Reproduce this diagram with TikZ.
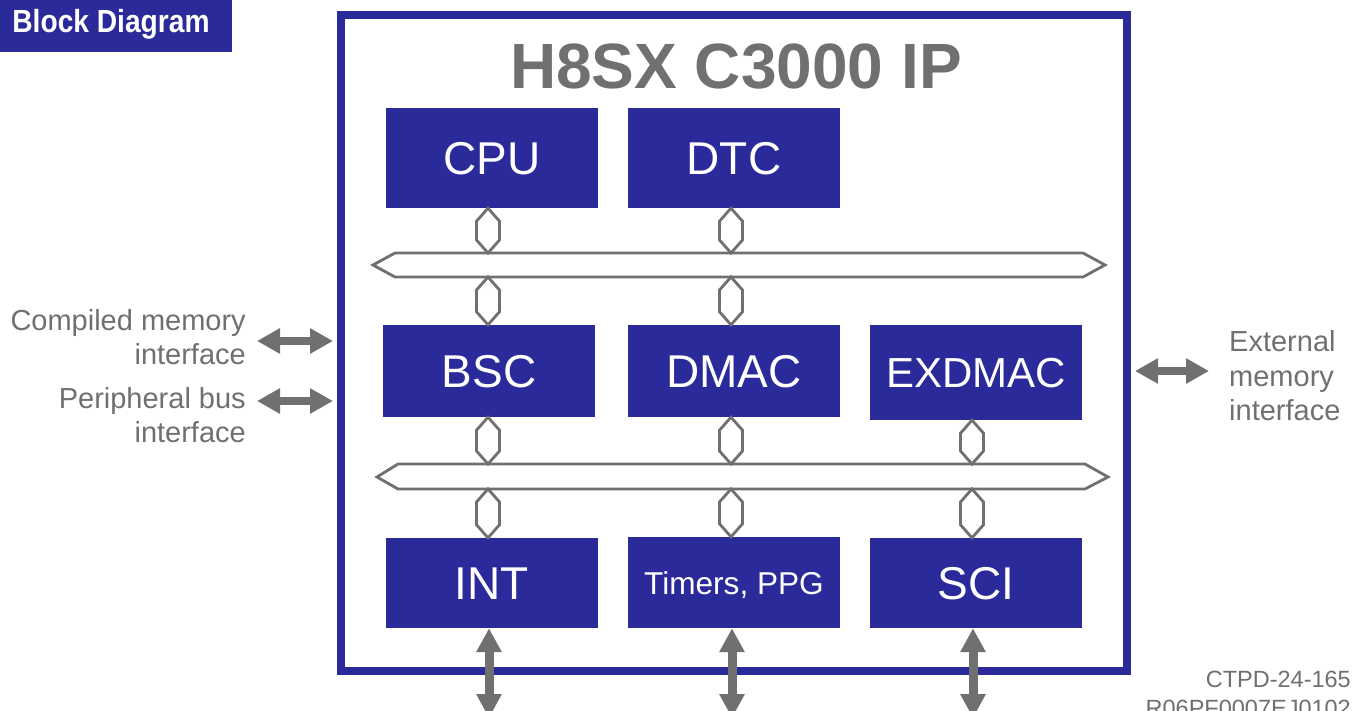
\documentclass[tikz,border=0pt]{standalone}
\usepackage{fontspec}
\usepackage{graphicx}
\setmainfont{Liberation Sans}
\usetikzlibrary{arrows.meta}
\definecolor{navy}{RGB}{43,42,155}
\definecolor{dgray}{RGB}{112,112,112}
\newcommand\hexcon[3]{%
  \coordinate (hA) at (#1 |- #2);
  \coordinate (hB) at (#1 |- #3);
  \draw[hexline] (hA) -- ([shift={(-11.5,13)}]hA) -- ([shift={(-11.5,-13)}]hB) -- (hB)
    -- ([shift={(11.5,-13)}]hB) -- ([shift={(11.5,13)}]hA) -- cycle;}
\begin{document}
\begin{tikzpicture}[x=1pt,y=-1pt,
  blk/.style={fill=navy, text=white, minimum width=212pt, inner sep=0pt,
    font=\fontsize{46}{50}\selectfont, text height=33pt, text depth=0pt},
  hexline/.style={draw=dgray, line width=2.8pt, fill=white},
  busline/.style={draw=dgray, line width=2.8pt, fill=white},
  sidetext/.style={text=dgray, inner sep=0pt, font=\fontsize{29}{34.5}\selectfont},
  hfat/.style={draw=dgray, line width=8pt,
    {Triangle[length=23pt,width=24pt]}-{Triangle[length=23pt,width=24pt]}},
  vfat/.style={draw=dgray, line width=9pt,
    {Triangle[length=24pt,width=24pt]}-{Triangle[length=24pt,width=24pt]}}]
\useasboundingbox (0,0) rectangle (1358,711);
\fill[white] (0,0) rectangle (1358,711);

% header tab
\node[fill=navy, minimum width=232pt, minimum height=52pt, inner sep=0pt, anchor=north west] (tab) at (0,0) {};
\node[anchor=base, text=white, inner sep=0pt, font=\fontsize{32}{36}\selectfont\bfseries] (tabtext) at (111,33) {\scalebox{0.88}[1]{Block Diagram}};

% frame
\node[draw=navy, line width=8pt, minimum width=786.5pt, minimum height=656pt, inner sep=0pt] (frame) at (733.75,343) {};
\node[anchor=base, text=dgray, inner sep=0pt, font=\fontsize{64}{70}\selectfont\bfseries] (title) at (736,89) {H8SX C3000 IP};

% columns and bus levels
\coordinate (col1) at (488,0);
\coordinate (col2) at (731,0);
\coordinate (col3) at (972,0);
\coordinate (bus1t) at (0,253);
\coordinate (bus1b) at (0,277);
\coordinate (bus2t) at (0,464);
\coordinate (bus2b) at (0,489);

% buses
\draw[busline] (373,265) -- (395,253) -- (1083,253) -- (1105,265) -- (1083,277) -- (395,277) -- cycle;
\draw[busline] (377,477) -- (398,464) -- (1085,464) -- (1108,477) -- (1085,489) -- (398,489) -- cycle;

% blocks
\node[blk, minimum height=100pt] (cpu) at (492,158) {CPU};
\node[blk, minimum height=100pt] (dtc) at (734,158) {DTC};
\node[blk, minimum height=92pt] (bsc) at (489,371) {BSC};
\node[blk, minimum height=92pt] (dmac) at (734,371) {DMAC};
\node[blk, minimum height=95pt, font=\fontsize{42}{46}\selectfont, text height=30pt] (exdmac) at (976,372.5) {EXDMAC};
\node[blk, minimum height=90pt] (int) at (492,583) {INT};
\node[blk, minimum height=91pt, font=\fontsize{31.6}{36}\selectfont, text height=23pt] (tim) at (734,582.5) {Timers, PPG};
\node[blk, minimum height=90pt] (sci) at (976,583) {SCI};

% hex connectors
\hexcon{col1}{cpu.south}{bus1t}
\hexcon{col2}{dtc.south}{bus1t}
\hexcon{col1}{bus1b}{bsc.north}
\hexcon{col2}{bus1b}{dmac.north}
\hexcon{col1}{bsc.south}{bus2t}
\hexcon{col2}{dmac.south}{bus2t}
\hexcon{col3}{exdmac.south}{bus2t}
\hexcon{col1}{bus2b}{int.north}
\hexcon{col2}{bus2b}{tim.north}
\hexcon{col3}{bus2b}{sci.north}

% side texts
\node[sidetext, align=right, anchor=east] (cmi) at (246,337) {Compiled memory\\interface};
\node[sidetext, align=right, anchor=east] (pbi) at (246,415) {Peripheral bus\\interface};
\node[sidetext, align=left, anchor=west] (emi) at (1229,376) {External\\memory\\interface};

% side arrows
\coordinate (l1a) at (257,341);
\coordinate (l1b) at (333,341);
\coordinate (l2a) at (257,401);
\coordinate (l2b) at (333,401);
\coordinate (r1a) at (1135,371);
\coordinate (r1b) at (1209,371);
\draw[hfat] (l1a) -- (l1b);
\draw[hfat] (l2a) -- (l2b);
\draw[hfat] (r1a) -- (r1b);

% bottom arrows
\coordinate (e1) at (489,718);
\coordinate (e2) at (732,718);
\coordinate (e3) at (973,718);
\draw[vfat] ([xshift=-3pt]int.south) -- (e1);
\draw[vfat] ([xshift=-2pt]tim.south) -- (e2);
\draw[vfat] ([xshift=-3pt]sci.south) -- (e3);

% document codes
\node[anchor=base east, text=dgray, inner sep=0pt, font=\fontsize{23.5}{28}\selectfont] (code1) at (1351,687) {CTPD-24-165};
\node[anchor=base east, text=dgray, inner sep=0pt, font=\fontsize{23.5}{28}\selectfont] (code2) at (1351,716) {R06PF0007EJ0102};
\end{tikzpicture}
\end{document}
